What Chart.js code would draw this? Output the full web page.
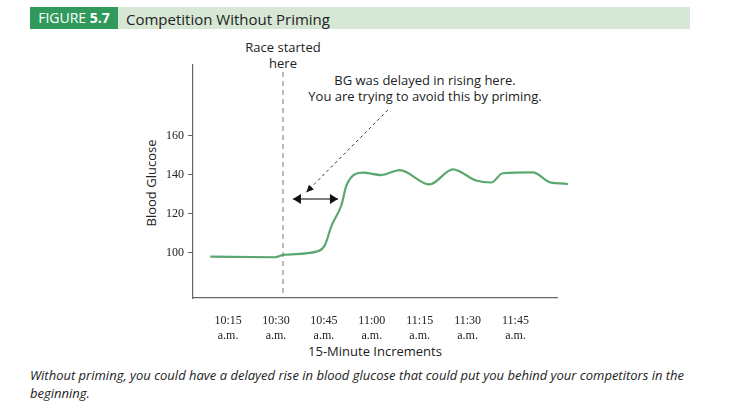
<!DOCTYPE html>
<html>
<head>
<meta charset="utf-8">
<script src="https://cdn.jsdelivr.net/npm/chart.js@4"></script>
<style>
  body { margin: 0; width: 730px; height: 411px; background: #fff; position: relative; overflow: hidden;
         font-family: "Liberation Sans Narrow", "Open Sans", sans-serif; color: #222; }
  #wrap { position: absolute; left: 0; top: 0; width: 730px; height: 411px; }
  .t { position: absolute; }
  #band { position: absolute; left: 30px; top: 7px; width: 660px; height: 22px; background: #d6e8d5; }
  #fig { position: absolute; left: 30px; top: 7px; width: 88px; height: 22px; background: #2f9a5c; color: #fff;
         font-size: 14px; line-height: 22px; text-align: center; }
</style>
</head>
<body>
<div id="band"></div>
<div id="fig">FIGURE <b>5.7</b></div>
<div class="t" style="left:126px;top:9px;font-size:15px;">Competition Without Priming</div>
<div class="t" style="left:240px;top:39px;font-size:13px;text-align:center;width:86px;line-height:16px;">Race started<br>here</div>
<div class="t" style="left:300px;top:72px;font-size:13px;text-align:center;width:250px;line-height:16px;">BG was delayed in rising here.<br>You are trying to avoid this by priming.</div>
<div class="t" style="left:103px;top:174px;font-size:13px;transform:rotate(-90deg);width:96px;text-align:center;">Blood Glucose</div>
<div class="t" style="left:300px;top:342px;font-size:13px;width:150px;text-align:center;">15-Minute Increments</div>
<div class="t" style="left:30px;top:366px;font-size:13px;font-style:italic;width:680px;line-height:18px;">Without priming, you could have a delayed rise in blood glucose that could put you behind your competitors in the beginning.</div>
<div id="wrap"><canvas id="c" width="730" height="411"></canvas></div>
<script>
// minutes after 10:00 and blood glucose
const minutes = [9.4, 29.7, 32.3, 42.7, 45.3, 47.4, 50.5, 52.1, 57.3, 63, 68.75, 78.1, 85.4, 92.7, 97.4, 101, 110.4, 116.2, 121.4, 123.8];
const glucose = [98.1, 97.8, 99, 100.7, 104, 114, 124.5, 134.7, 141, 139.8, 142.3, 135, 142.7, 137, 136, 140.7, 141.2, 135.9, 135.2, 133];
const tickMinutes = [15, 30, 45, 60, 75, 90, 105];
const tickLabels = ['10:15', '10:30', '10:45', '11:00', '11:15', '11:30', '11:45'];
const yTicks = [100, 120, 140, 160];
const raceStart = 32.2;

const extras = {
  id: 'extras',
  afterDatasetsDraw(chart) {
    const { ctx, scales: { x, y }, chartArea } = chart;
    ctx.save();
    // race start line
    ctx.strokeStyle = '#777'; ctx.lineWidth = 1; ctx.setLineDash([5, 4]);
    const rx = x.getPixelForValue(raceStart);
    ctx.beginPath(); ctx.moveTo(rx, 72); ctx.lineTo(rx, chartArea.bottom); ctx.stroke();
    // dotted pointer
    ctx.strokeStyle = '#333'; ctx.setLineDash([3, 3]);
    const p1 = [x.getPixelForValue(65), y.getPixelForValue(173)];
    const p2 = [x.getPixelForValue(39.5), y.getPixelForValue(131)];
    ctx.beginPath(); ctx.moveTo(p1[0], p1[1]); ctx.lineTo(p2[0], p2[1]); ctx.stroke();
    ctx.setLineDash([]);
    ctx.fillStyle = '#111';
    const ang = Math.atan2(p2[1] - p1[1], p2[0] - p1[0]);
    ctx.beginPath();
    ctx.moveTo(p2[0], p2[1]);
    ctx.lineTo(p2[0] - 8 * Math.cos(ang - 0.45), p2[1] - 8 * Math.sin(ang - 0.45));
    ctx.lineTo(p2[0] - 8 * Math.cos(ang + 0.45), p2[1] - 8 * Math.sin(ang + 0.45));
    ctx.fill();
    // double arrow
    const ay = y.getPixelForValue(127.5);
    const ax1 = x.getPixelForValue(35.3), ax2 = x.getPixelForValue(49.4);
    ctx.strokeStyle = '#555'; ctx.lineWidth = 1.5;
    ctx.beginPath(); ctx.moveTo(ax1, ay); ctx.lineTo(ax2, ay); ctx.stroke();
    ctx.beginPath(); ctx.moveTo(ax1, ay); ctx.lineTo(ax1 + 8, ay - 5); ctx.lineTo(ax1 + 8, ay + 5); ctx.fill();
    ctx.beginPath(); ctx.moveTo(ax2, ay); ctx.lineTo(ax2 - 8, ay - 5); ctx.lineTo(ax2 - 8, ay + 5); ctx.fill();
    ctx.restore();
  }
};

new Chart(document.getElementById('c'), {
  type: 'line',
  data: {
    datasets: [{
      data: minutes.map((m, i) => ({ x: m, y: glucose[i] })),
      borderColor: '#5aa86f',
      borderWidth: 2.2,
      pointRadius: 0,
      tension: 0.4,
      cubicInterpolationMode: 'monotone',
      clip: false
    }]
  },
  options: {
    responsive: false,
    animation: false,
    layout: { padding: { top: 65, right: 173, left: 0, bottom: 0 } },
    plugins: { legend: { display: false }, tooltip: { enabled: false } },
    scales: {
      x: {
        type: 'linear', min: 4, max: 118,
        afterFit: s => { s.height = 113; },
        afterBuildTicks: s => { s.ticks = tickMinutes.map(v => ({ value: v })); },
        grid: { display: false },
        border: { color: '#666', width: 1.2 },
        ticks: {
          color: '#222', font: { family: 'Liberation Sans Narrow', size: 12 }, padding: 8, maxRotation: 0,
          callback: v => [tickLabels[tickMinutes.indexOf(v)], 'a.m.']
        }
      },
      y: {
        min: 77, max: 196,
        afterFit: s => { s.width = 193; },
        afterBuildTicks: s => { s.ticks = yTicks.map(v => ({ value: v })); },
        grid: { drawOnChartArea: false, tickLength: 5, color: '#666' },
        border: { color: '#666', width: 1.2 },
        ticks: { color: '#222', font: { family: 'Liberation Sans Narrow', size: 12 }, padding: 4 }
      }
    }
  },
  plugins: [extras]
});
</script>
</body>
</html>
